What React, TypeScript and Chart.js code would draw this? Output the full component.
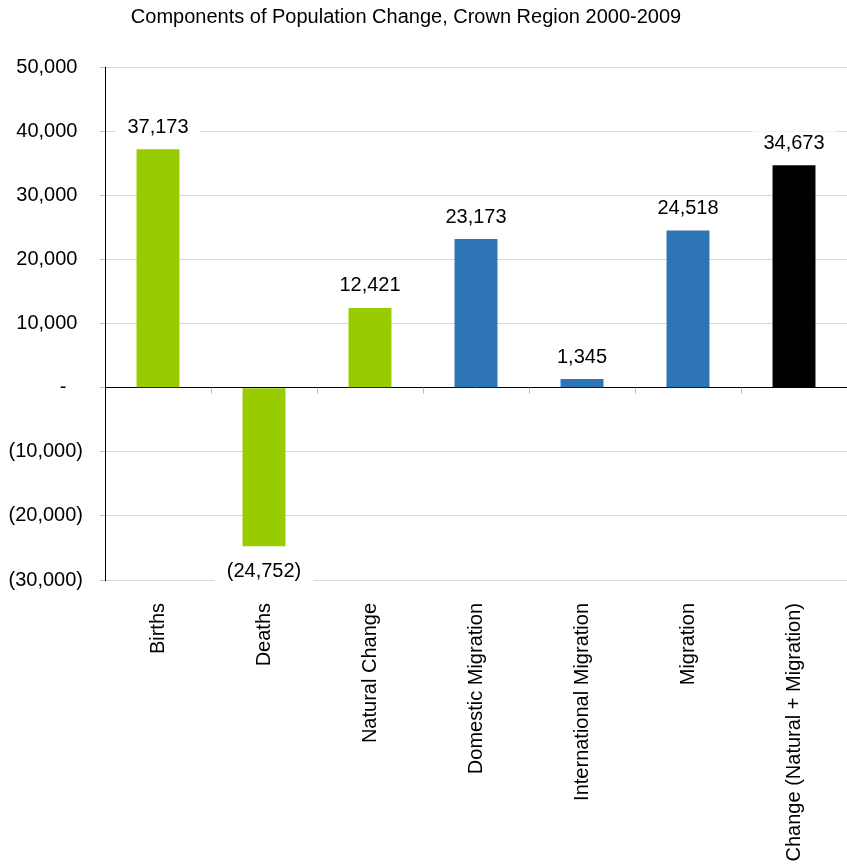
import React, { useEffect, useRef } from "react";
import { Chart, registerables } from "chart.js";

Chart.register(...registerables);

const title = "Components of Population Change, Crown Region 2000-2009";
const categories = [
  "Births",
  "Deaths",
  "Natural Change",
  "Domestic Migration",
  "International Migration",
  "Migration",
  "Change (Natural + Migration)",
];
const values = [37173, -24752, 12421, 23173, 1345, 24518, 34673];
const barColors = ["#99CC00", "#99CC00", "#99CC00", "#2E75B6", "#2E75B6", "#2E75B6", "#000000"];
const yMin = -30000;
const yMax = 50000;
const yStep = 10000;

const FONT = '"Liberation Sans", Arial, sans-serif';

function fmt(v: number): string {
  const s = Math.abs(v).toLocaleString("en-US");
  return v < 0 ? `(${s})` : s;
}

function tickFmt(v: number): string {
  if (v === 0) return "-   ";
  if (v < 0) return fmt(v);
  return fmt(v) + " ";
}

const decorPlugin = {
  id: "decor",
  afterDatasetsDraw(chart: any) {
    const ctx = chart.ctx;
    const meta = chart.getDatasetMeta(0);
    ctx.save();
    ctx.font = `20px ${FONT}`;
    ctx.textAlign = "center";
    ctx.textBaseline = "middle";
    meta.data.forEach((el: any, i: number) => {
      const v = values[i];
      const text = fmt(v);
      const y = v >= 0 ? el.y - 22 : el.y + 25;
      const w = ctx.measureText(text).width + 24;
      ctx.fillStyle = "#ffffff";
      ctx.fillRect(el.x - w / 2, y - 12, w, 24);
      ctx.fillStyle = "#000000";
      ctx.fillText(text, el.x, y);
    });
    // tick marks on zero line at category boundaries
    const y0 = chart.scales.y.getPixelForValue(0);
    const area = chart.chartArea;
    const n = categories.length;
    const cw = (area.right - area.left) / n;
    ctx.strokeStyle = "#bfbfbf";
    ctx.lineWidth = 1;
    for (let k = 1; k <= n; k++) {
      const x = Math.round(area.left + cw * k) + 0.5;
      ctx.beginPath();
      ctx.moveTo(x, y0);
      ctx.lineTo(x, y0 + 6);
      ctx.stroke();
    }
    ctx.restore();
  },
  afterDraw(chart: any) {
    const ctx = chart.ctx;
    ctx.save();
    ctx.font = `20px ${FONT}`;
    ctx.textAlign = "center";
    ctx.textBaseline = "middle";
    ctx.fillStyle = "#000000";
    ctx.fillText(title, 406, 17);
    ctx.restore();
  },
};

export default function App() {
  const ref = useRef<HTMLCanvasElement | null>(null);
  useEffect(() => {
    if (!ref.current) return;
    const chart = new Chart(ref.current, {
      type: "bar",
      data: {
        labels: categories,
        datasets: [
          {
            data: values,
            backgroundColor: barColors,
            borderWidth: 0,
            categoryPercentage: 1,
            barPercentage: 0.405,
          },
        ],
      },
      options: {
        responsive: false,
        animation: false,
        devicePixelRatio: 1,
        layout: { padding: { top: 67, right: 0, left: 0, bottom: 0 } },
        plugins: {
          legend: { display: false },
          title: { display: false },
          tooltip: { enabled: false },
        },
        scales: {
          x: {
            grid: { display: false },
            border: { display: false },
            ticks: {
              minRotation: 90,
              maxRotation: 90,
              padding: 15,
              color: "#000000",
              font: { family: FONT, size: 20 },
              autoSkip: false,
            },
            afterFit(scale: any) {
              scale.height = 285;
            },
          },
          y: {
            min: yMin,
            max: yMax,
            ticks: {
              stepSize: yStep,
              padding: 17,
              color: "#000000",
              font: { family: FONT, size: 20 },
              callback: (v: any) => tickFmt(Number(v)),
            },
            grid: {
              color: (c: any) => (c.tick && c.tick.value === 0 ? "#000000" : "#d9d9d9"),
              tickColor: "#bfbfbf",
              tickLength: 5,
              lineWidth: 1,
            },
            border: { display: true, color: "#000000", width: 1 },
            afterFit(scale: any) {
              scale.width = 105;
            },
          },
        },
      },
      plugins: [decorPlugin],
    });
    return () => chart.destroy();
  }, []);
  return (
    <div style={{ position: "absolute", left: 0, top: 0, width: 847, height: 865 }}>
      <canvas ref={ref} width={847} height={865} style={{ width: 847, height: 865, display: "block" }} />
    </div>
  );
}
